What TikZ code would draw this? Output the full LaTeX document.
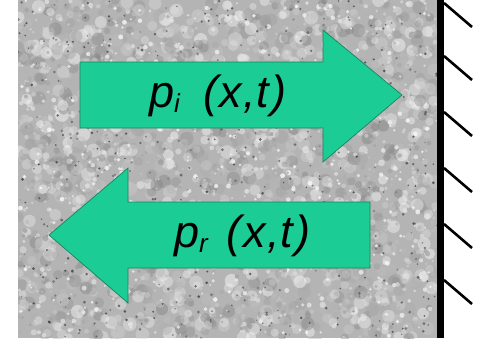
\documentclass[tikz,border=0pt]{standalone}
\usepackage{fontspec}
\setmainfont{Liberation Sans}
\usepackage{tikz}
\usetikzlibrary{calc}
\definecolor{waveGreen}{HTML}{1BCC94}
\definecolor{waveEdge}{HTML}{16865F}
\definecolor{rockBase}{HTML}{B4B4B4}

\begin{document}
\begin{tikzpicture}[x=1pt,y=-1pt,
  waveArrow/.style={fill=waveGreen,draw=waveEdge,line width=0.7pt,line join=miter},
  waveLabel/.style={anchor=base west,inner sep=0pt,font=\fontsize{45}{48}\selectfont\itshape},
  hatch/.style={line width=2.6pt}]
  \useasboundingbox (0,0) rectangle (478,338);
  % rock
  \fill[rockBase] (18,0) rectangle (437,338);
  \begin{scope}
    \clip (18,0) rectangle (437,338);
    \pgfmathsetseed{2718}
    \foreach \i in {1,...,1800}{
      \pgfmathsetmacro{\px}{18+rnd*419}
      \pgfmathsetmacro{\py}{rnd*338}
      \pgfmathsetmacro{\gl}{int(rnd*50)}
      \pgfmathsetmacro{\rr}{2.5+rnd*4.5}
      \fill[black!\gl,opacity=0.45] (\px,\py) circle (\rr pt);
    }
    \foreach \i in {1,...,1500}{
      \pgfmathsetmacro{\px}{18+rnd*419}
      \pgfmathsetmacro{\py}{rnd*338}
      \pgfmathsetmacro{\gl}{int(rnd*40)}
      \pgfmathsetmacro{\rr}{1.0+rnd*1.5}
      \fill[black!\gl,opacity=0.75] (\px,\py) circle (\rr pt);
    }
    \foreach \i in {1,...,500}{
      \pgfmathsetmacro{\px}{18+rnd*419}
      \pgfmathsetmacro{\py}{rnd*338}
      \pgfmathsetmacro{\gl}{int(55+rnd*30)}
      \pgfmathsetmacro{\rr}{0.7+rnd*0.9}
      \fill[black!\gl,opacity=0.7] (\px,\py) circle (\rr pt);
    }
  \end{scope}
  % wall
  \coordinate (wallTop) at (440,0);
  \coordinate (wallBot) at (440,338);
  \draw[line width=7pt] (wallTop) -- (wallBot);
  \foreach \y in {3,56,112,168,224,280}{
    \draw[hatch] (444,\y) -- ++(28,24);
  }
  % incident wave
  \draw[waveArrow] (80,62) -- (323,62) -- (323,30) -- (402,95)
    -- (323,162) -- (323,128) -- (80,128) -- cycle;
  \node[waveLabel] (pinc) at (149,107)
    {p\raisebox{-5pt}{\fontsize{26}{26}\selectfont i}\hspace{23pt}(\kern2pt x\kern1pt,\kern1pt t\kern2pt)};
  % reflected wave
  \draw[waveArrow] (370,202) -- (128,202) -- (128,168) -- (49,235)
    -- (128,303) -- (128,268) -- (370,268) -- cycle;
  \node[waveLabel] (pref) at (174,247)
    {p\raisebox{-5pt}{\fontsize{26}{26}\selectfont r}\hspace{19pt}(\kern2pt x\kern1pt,\kern1pt t\kern2pt)};
\end{tikzpicture}
\end{document}
